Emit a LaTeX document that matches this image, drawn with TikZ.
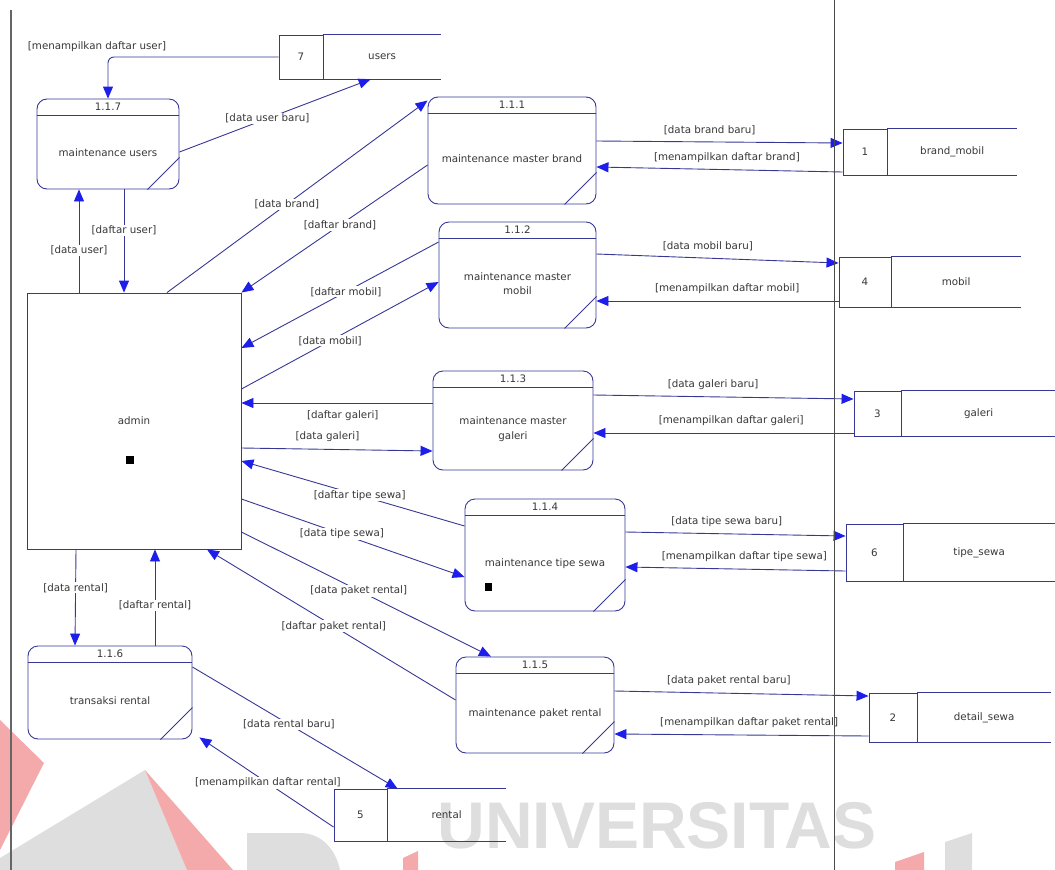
\documentclass[tikz,border=0pt]{standalone}
\usepackage{fontspec}
\setmainfont{DejaVu Sans}
\newfontfamily\wmfont{Liberation Sans}
\usepackage{tikz}
\usetikzlibrary{positioning,arrows.meta}
\definecolor{dfdline}{RGB}{55,55,150}
\definecolor{dfdarrow}{RGB}{30,30,235}
\definecolor{dfdtext}{RGB}{55,55,55}
\definecolor{wmred}{RGB}{244,170,170}
\definecolor{wmgray}{RGB}{222,222,222}
\begin{document}
\begin{tikzpicture}[x=1pt,y=-1pt,
		font=\fontsize{10.3}{12.4}\selectfont, text=dfdtext,
		dfdbox/.style={draw=dfdline, line width=0.9pt},
		proc/.style={dfdbox, rounded corners=10pt, inner sep=0pt,
			append after command={([yshift=-17pt]\tikzlastnode.north west) edge[dfdbox] ([yshift=-17pt]\tikzlastnode.north east)
				([xshift=-32pt]\tikzlastnode.south east) edge[dfdbox] ([yshift=32pt]\tikzlastnode.south east)}},
		pid/.style={anchor=center, yshift=-8.5pt},
		ptext/.style={anchor=center, yshift=-8.5pt, align=center, font=\fontsize{10.3}{14.5}\selectfont},
		storeid/.style={dfdbox, inner sep=0pt},
		storename/.style={inner sep=0pt,
			append after command={(\tikzlastnode.north west) edge[dfdbox] (\tikzlastnode.north east)
				(\tikzlastnode.south west) edge[dfdbox] (\tikzlastnode.south east)}},
		flow/.style={draw=dfdline, line width=0.9pt, -{Triangle[length=12pt,width=10pt,color=dfdarrow,fill=dfdarrow]}},
		lbl/.style={fill=white, inner sep=1pt}]
	\useasboundingbox (0,0) rectangle (1055,870);
	\fill[wmred] (0,720) -- (44,763) -- (0,850) -- cycle;
	\fill[wmgray] (0,858) -- (145,770) -- (187,870) -- (0,870) -- cycle;
	\fill[wmred] (145,770) -- (233,870) -- (187,870) -- cycle;
	\fill[wmgray] (247,870) -- (247,833) -- (300,833) .. controls (322,833) and (336,850) .. (340,870) -- cycle;
	\fill[wmred] (403,858) -- (418,851) -- (418,870) -- (403,870) -- cycle;
	\fill[wmred] (895,862) -- (924,852) -- (924,870) -- (895,870) -- cycle;
	\fill[wmgray] (945,842) -- (972,833) -- (972,870) -- (945,870) -- cycle;
	\node[text=wmgray, font=\wmfont\bfseries\fontsize{66}{66}\selectfont, anchor=base] (wm) at (657,848) {UNIVERSITAS};

	\node[dfdbox, minimum width=214, minimum height=256] (admin) at (134,421) {admin};
	\fill (126,456) rectangle (134,464);

	\node[proc, minimum width=142, minimum height=90, label={[pid]north:1.1.7}, label={[ptext]center:maintenance users}] (p117) at (108,144) {};
	\node[proc, minimum width=168, minimum height=107, label={[pid]north:1.1.1}, label={[ptext]center:maintenance master brand}] (p111) at (512,150.5) {};
	\node[proc, minimum width=157, minimum height=106, label={[pid]north:1.1.2}, label={[ptext]center:maintenance master\\mobil}] (p112) at (517.5,275) {};
	\node[proc, minimum width=160, minimum height=99, label={[pid]north:1.1.3}, label={[ptext]center:maintenance master\\galeri}] (p113) at (513,420.5) {};
	\node[proc, minimum width=160, minimum height=112, label={[pid]north:1.1.4}, label={[ptext]center:maintenance tipe sewa}] (p114) at (545,555) {};
	\node[proc, minimum width=158, minimum height=96, label={[pid]north:1.1.5}, label={[ptext]center:maintenance paket rental}] (p115) at (535,705) {};
	\node[proc, minimum width=164, minimum height=93, label={[pid]north:1.1.6}, label={[ptext]center:transaksi rental}] (p116) at (110,692.5) {};
	\fill (485,583) rectangle (492,591);

	\node[storeid, minimum width=44, minimum height=44] (s7) at (301,57) {7};
	\node[storename, minimum width=117, minimum height=44, right=0pt of s7] (s7n) {users};
	\node[storeid, minimum width=44, minimum height=46] (s1) at (865,152) {1};
	\node[storename, minimum width=129, minimum height=46, right=0pt of s1] (s1n) {brand\_mobil};
	\node[storeid, minimum width=52, minimum height=50] (s4) at (865,282) {4};
	\node[storename, minimum width=129, minimum height=50, right=0pt of s4] (s4n) {mobil};
	\node[storeid, minimum width=47, minimum height=45] (s3) at (877.5,413.5) {3};
	\node[storename, minimum width=154, minimum height=45, right=0pt of s3] (s3n) {galeri};
	\node[storeid, minimum width=57, minimum height=57] (s6) at (874.5,552.5) {6};
	\node[storename, minimum width=151, minimum height=57, right=0pt of s6] (s6n) {tipe\_sewa};
	\node[storeid, minimum width=48, minimum height=49] (s2) at (893,717.5) {2};
	\node[storename, minimum width=133, minimum height=49, right=0pt of s2] (s2n) {detail\_sewa};
	\node[storeid, minimum width=53, minimum height=52] (s5) at (360.5,815) {5};
	\node[storename, minimum width=118, minimum height=52, right=0pt of s5] (s5n) {rental};

	\draw[flow, rounded corners=6pt] (s7.west) -| node[lbl, pos=.5, above=4pt, xshift=-11pt] (tShowUser) {[menampilkan daftar user]} (p117.north);
	\draw[flow] ([yshift=-8pt]p117.east) -- node[lbl, pos=.46] (tNewUser) {[data user baru]} ([xshift=-11.5pt]s7n.south);
	\draw[flow] ([xshift=-55pt]admin.north) -- node[lbl, pos=.41] (tDataUser) {[data user]} ([xshift=-29pt]p117.south);
	\draw[flow] ([xshift=16pt]p117.south) -- node[lbl, pos=.40] (tListUser) {[daftar user]} ([xshift=-10pt]admin.north);
	\draw[flow] ([xshift=33pt]admin.north) -- node[lbl, pos=.46] (tDataBrand) {[data brand]} ([yshift=-4pt]p111.north west);
	\draw[flow] ([yshift=-14.5pt]p111.west) -- node[lbl, pos=.47] (tListBrand) {[daftar brand]} (admin.north east);
	\draw[flow] ([yshift=9.5pt]p111.east) -- node[lbl, pos=.46, above=6pt] (tNewBrand) {[data brand baru]} ([yshift=9pt]s1.west);
	\draw[flow] ([yshift=-20pt]s1.west) -- node[lbl, pos=.47, above=6pt] (tShowBrand) {[menampilkan daftar brand]} ([yshift=-16.5pt]p111.east);
	\draw[flow] ([yshift=21pt]p112.east) -- node[lbl, pos=.46, above=6pt] (tNewMobil) {[data mobil baru]} ([yshift=19pt]s4.west);
	\draw[flow] ([yshift=-19pt]s4.west) -- node[lbl, pos=.46, above=6pt] (tShowMobil) {[menampilkan daftar mobil]} ([yshift=-26pt]p112.east);
	\draw[flow] ([yshift=33pt]p112.west) -- node[lbl, pos=.47] (tListMobil) {[daftar mobil]} ([yshift=73pt]admin.east);
	\draw[flow] ([yshift=32pt]admin.east) -- node[lbl, pos=.45] (tDataMobil) {[data mobil]} ([yshift=-7pt]p112.west);
	\draw[flow] ([yshift=17.5pt]p113.west) -- node[lbl, pos=.47, below=6pt] (tListGaleri) {[daftar galeri]} ([yshift=18pt]admin.east);
	\draw[flow] ([yshift=-27pt]admin.east) -- node[lbl, pos=.45, above=6pt] (tDataGaleri) {[data galeri]} ([yshift=-30.5pt]p113.west);
	\draw[flow] ([yshift=25.5pt]p113.east) -- node[lbl, pos=.46, above=6pt] (tNewGaleri) {[data galeri baru]} ([yshift=14.5pt]s3.west);
	\draw[flow] ([yshift=-19.5pt]s3.west) -- node[lbl, pos=.47, above=6pt] (tShowGaleri) {[menampilkan daftar galeri]} ([yshift=-12.5pt]p113.east);
	\draw[flow] ([yshift=29pt]p114.west) -- node[lbl, pos=.47] (tListTipe) {[daftar tipe sewa]} ([yshift=-40pt]admin.east);
	\draw[flow] ([yshift=-78pt]admin.east) -- node[lbl, pos=.45] (tDataTipe) {[data tipe sewa]} ([yshift=-22pt]p114.west);
	\draw[flow] ([yshift=23pt]p114.east) -- node[lbl, pos=.46, above=6pt] (tNewTipe) {[data tipe sewa baru]} ([yshift=16.5pt]s6.west);
	\draw[flow] ([yshift=-18.5pt]s6.west) -- node[lbl, pos=.46, above=6pt] (tShowTipe) {[menampilkan daftar tipe sewa]} ([yshift=-12pt]p114.east);
	\draw[flow] ([yshift=-111pt]admin.east) -- node[lbl, pos=.47] (tDataPaket) {[data paket rental]} ([xshift=-44pt]p115.north);
	\draw[flow] ([yshift=5pt]p115.west) -- node[lbl, pos=.49] (tListPaket) {[daftar paket rental]} ([xshift=73pt]admin.south);
	\draw[flow] ([yshift=14pt]p115.east) -- node[lbl, pos=.45, above=6pt] (tNewPaket) {[data paket rental baru]} ([yshift=21.5pt]s2.west);
	\draw[flow] ([yshift=-18.5pt]s2.west) -- node[lbl, pos=.47, above=6pt] (tShowPaket) {[menampilkan daftar paket rental]} ([yshift=-29pt]p115.east);
	\draw[flow] ([xshift=45pt]p116.north) -- node[lbl, pos=.42] (tListRental) {[daftar rental]} ([xshift=21pt]admin.south);
	\draw[flow] ([xshift=-58pt]admin.south) -- node[lbl, pos=.40] (tDataRental) {[data rental]} ([xshift=-35pt]p116.north);
	\draw[flow] ([yshift=25.5pt]p116.east) -- node[lbl, pos=.47] (tNewRental) {[data rental baru]} ([xshift=-49pt]s5n.north);
	\draw[flow] ([yshift=-12pt]s5.west) -- node[lbl, pos=.49] (tShowRental) {[menampilkan daftar rental]} ([xshift=7pt,yshift=2pt]p116.south east);

	\draw[black!60, line width=1.2pt] (11,10) -- (11,870);
	\draw[black!70, line width=0.8pt] (834,0) -- (834,870);
\end{tikzpicture}
\end{document}
